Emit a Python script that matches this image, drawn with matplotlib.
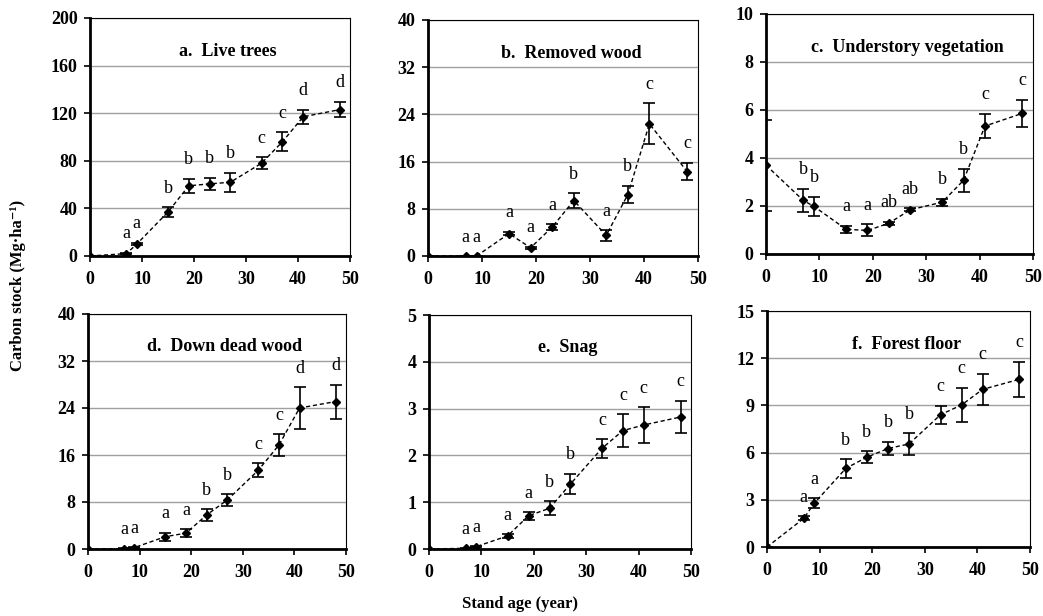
import numpy as np
import matplotlib
matplotlib.use("Agg")
import matplotlib.pyplot as plt

plt.rcParams.update({
    "font.family": ["Liberation Serif", "DejaVu Serif"], "font.size": 11,
})

# stand ages sampled (year)
age = [0, 7, 9, 15, 19, 23, 27, 33, 37, 41, 48]

# a. live trees
live_mean = [0, 2, 10, 37, 59, 60.6, 62, 78, 96, 117, 123]
live_err = [0, 0.5, 1, 4, 6, 5, 8, 5, 8, 6, 6.5]
live_let = ["", "a", "a", "b", "b", "b", "b", "c", "c", "d", "d"]

# b. removed wood
rem_mean = [0, 0, 0, 3.8, 1.4, 4.9, 9.4, 3.5, 10.4, 22.4, 14.3]
rem_err = [0, 0, 0, 0.3, 0.2, 0.5, 1.2, 0.9, 1.5, 3.5, 1.5]
rem_let = ["", "a", "a", "a", "a", "a", "b", "a", "b", "c", "c"]

# c. understory vegetation
und_mean = [3.7, 2.23, 1.98, 1.03, 0.98, 1.28, 1.84, 2.16, 3.07, 5.33, 5.86]
und_err = [1.9, 0.47, 0.4, 0.15, 0.25, 0.07, 0.06, 0.15, 0.48, 0.5, 0.56]
und_let = ["", "b", "b", "a", "a", "ab", "ab", "b", "b", "c", "c"]

# d. down dead wood
ddw_mean = [0, 0.05, 0.25, 2.1, 2.7, 5.8, 8.35, 13.4, 17.7, 24, 25.1]
ddw_err = [0, 0.05, 0.1, 0.7, 0.7, 1.0, 1.0, 1.2, 1.8, 3.6, 2.9]
ddw_let = ["", "a", "a", "a", "a", "b", "b", "c", "c", "d", "d"]

# e. snag
snag_mean = [0, 0.015, 0.05, 0.28, 0.71, 0.87, 1.39, 2.15, 2.53, 2.65, 2.82]
snag_err = [0, 0.005, 0.01, 0.04, 0.08, 0.15, 0.22, 0.2, 0.35, 0.39, 0.35]
snag_let = ["", "a", "a", "a", "a", "b", "b", "c", "c", "c", "c"]

# f. forest floor
ff_mean = [0, 1.82, 2.79, 5.0, 5.71, 6.26, 6.55, 8.41, 9.03, 10.02, 10.66]
ff_err = [0, 0.12, 0.3, 0.6, 0.37, 0.43, 0.69, 0.58, 1.09, 0.99, 1.13]
ff_let = ["", "a", "a", "b", "b", "b", "b", "c", "c", "c", "c"]

panels = [
    ("a.  Live trees", live_mean, live_err, live_let, 200),
    ("b.  Removed wood", rem_mean, rem_err, rem_let, 40),
    ("c.  Understory vegetation", und_mean, und_err, und_let, 10),
    ("d.  Down dead wood", ddw_mean, ddw_err, ddw_let, 40),
    ("e.  Snag", snag_mean, snag_err, snag_let, 5),
    ("f.  Forest floor", ff_mean, ff_err, ff_let, 15),
]

# axes boxes in figure pixels (left, top, right, bottom)
W, H = 1043, 616
boxes = [
    (90, 18, 350, 256), (428, 20, 698, 256), (766, 14, 1033, 254),
    (88, 314, 346, 549), (429, 315, 691, 549), (767, 311, 1030, 547),
]

fig = plt.figure(figsize=(W / 100, H / 100), dpi=100)

for (title, m, e, let, ymax), (l, t, r, b) in zip(panels, boxes):
    ax = fig.add_axes([l / W, 1 - b / H, (r - l) / W, (b - t) / H])
    ax.errorbar(age, m, yerr=e, fmt="none", ecolor="black", elinewidth=1.2,
                capsize=4, capthick=1.2, zorder=3)
    ax.plot(age, m, ls=(0, (3, 2)), color="black", lw=1.0, marker="D",
            ms=4, zorder=4)
    for x, y, s, lab in zip(age, m, e, let):
        if lab:
            ax.text(x, y + s + 0.08 * ymax, lab, ha="center", va="center",
                    fontsize=13)
    ax.set_xlim(0, 50)
    ax.set_ylim(0, ymax)
    ax.set_xticks(range(0, 51, 10))
    ax.set_yticks(np.linspace(0, ymax, 6))
    ax.yaxis.grid(True, color="#a0a0a0", lw=1.0)
    ax.set_axisbelow(True)
    for lab in ax.get_xticklabels() + ax.get_yticklabels():
        lab.set_fontweight("bold")
        lab.set_fontsize(13)
    ax.tick_params(axis="both", length=4, width=1.2, direction="out")
    ax.tick_params(axis="y", pad=5)
    ax.tick_params(axis="x", pad=7)
    ax.spines["left"].set_linewidth(2)
    ax.spines["bottom"].set_linewidth(2)
    ax.spines["top"].set_linewidth(0.8)
    ax.spines["right"].set_linewidth(0.8)
    ax.text(0.53, 0.86, title, transform=ax.transAxes, ha="center",
            va="center", fontsize=13, fontweight="bold")

fig.text(18 / W, 1 - 285 / H, "Carbon stock (Mg\u00b7ha\u207b\u00b9)", rotation=90,
         ha="center", va="center", fontsize=12, fontweight="bold")
fig.text(520 / W, 1 - 604 / H, "Stand age (year)", ha="center", va="center",
         fontsize=12, fontweight="bold")

fig.savefig("out.png", dpi=100)
